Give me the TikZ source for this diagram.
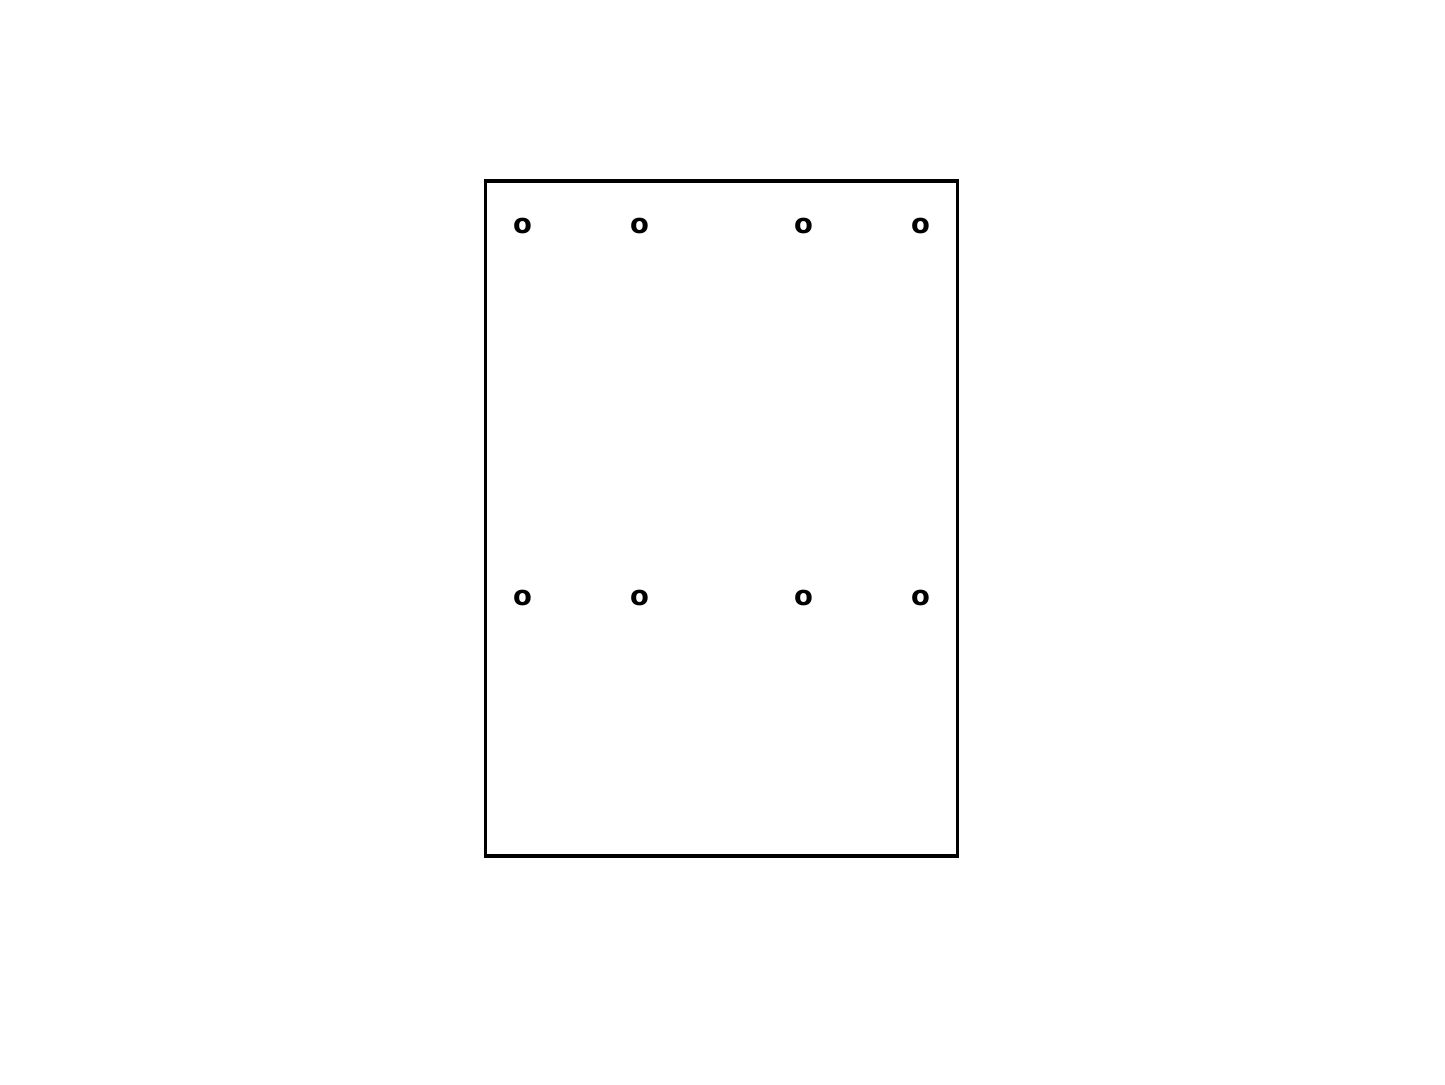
\documentclass[tikz,border=0pt]{standalone}
\usepackage{fontspec}
\setmainfont{DejaVu Sans}
\usepackage{tikz}
\tikzset{pin/.style={inner sep=0pt, font=\bfseries\fontsize{7.8}{9}\selectfont}}

\begin{document}
\begin{tikzpicture}
\useasboundingbox (0,0) rectangle (14.45,10.85);
\draw[line width=1pt] (4.855,2.29) rectangle (9.575,9.04);
\node[pin] (a1) at (5.225,8.59) {o};
\node[pin] (a2) at (6.395,8.59) {o};
\node[pin] (a3) at (8.035,8.59) {o};
\node[pin] (a4) at (9.205,8.59) {o};
\node[pin] (b1) at (5.225,4.87) {o};
\node[pin] (b2) at (6.395,4.87) {o};
\node[pin] (b3) at (8.035,4.87) {o};
\node[pin] (b4) at (9.205,4.87) {o};
\end{tikzpicture}
\end{document}
